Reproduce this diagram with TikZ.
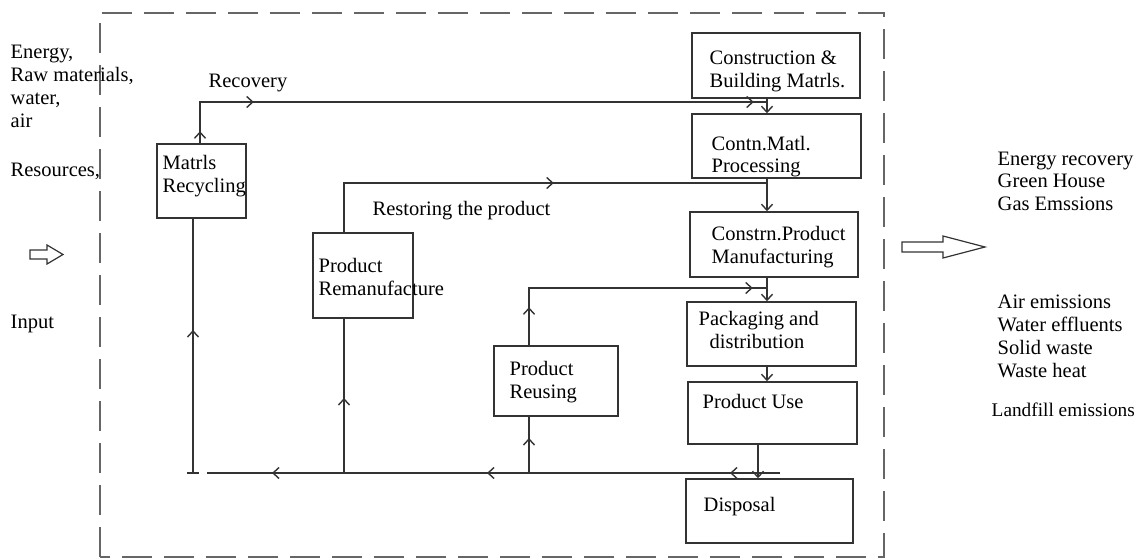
\documentclass[tikz,border=0pt]{standalone}
\usepackage{fontspec}
\setmainfont{Liberation Serif}
\usetikzlibrary{arrows.meta,decorations.markings}

\begin{document}
\begin{tikzpicture}[x=1pt,y=-1pt,line width=1.4pt,
	every node/.style={font=\fontsize{20.5}{23}\selectfont,inner sep=0pt},
	box/.style={draw=black!80,rectangle,line width=1.5pt},
	txt/.style={anchor=base west,align=left},
	flow/.style={draw=black!80,line width=1.4pt},
	tip/.style={-{Straight Barb[length=6pt,width=11pt]}},
	arrowat/.style={postaction={decorate,decoration={markings,mark=at position #1 with {\arrow{Straight Barb[length=6pt,width=11pt]}}}}}]
		\useasboundingbox (0,0) rectangle (1141,559);
		% System boundary
		\draw[black!60,line width=2pt,dash pattern=on 30pt off 12pt] (100,557) -- (100,13) -- (884,13) -- (884,557) -- cycle;
		% Inputs (base = last line)
		\node[txt] (inres) at (10,128) {Energy,\\Raw materials,\\water,\\air};
		\node[txt] (resources) at (10,177) {Resources,};
		\node[txt] (input) at (10,328) {Input};
		\draw[black!80,line width=1.2pt] (30,250) -- (47,250) -- (47,245) -- (63,254.5) -- (47,264) -- (47,259) -- (30,259) -- cycle;
		% Boxes
		\node[box,minimum width=89pt,minimum height=74pt] (mr) at (201.5,181) {};
		\node[box,minimum width=100pt,minimum height=85pt] (rm) at (363,275.5) {};
		\node[box,minimum width=124pt,minimum height=70pt] (ru) at (556,381) {};
		\node[box,minimum width=168pt,minimum height=65pt] (cb) at (776,65.5) {};
		\node[box,minimum width=169pt,minimum height=64pt] (cp) at (776.5,146) {};
		\node[box,minimum width=168pt,minimum height=65pt] (pm) at (774,244.5) {};
		\node[box,minimum width=169pt,minimum height=64pt] (pd) at (771.5,334) {};
		\node[box,minimum width=169pt,minimum height=62pt] (pu) at (772.5,413) {};
		\node[box,minimum width=167pt,minimum height=64pt] (dp) at (769.5,511) {};
		% Box texts
		\node[txt] (mrtext) at (162,193) {Matrls\\Recycling};
		\node[txt] (rmtext) at (318,295) {Product\\Remanufacture};
		\node[txt] (rutext) at (509,398) {Product\\Reusing};
		\node[txt] (cbtext) at (709,88) {Construction \&\\Building Matrls.};
		\node[txt] (cptext) at (711,173) {Contn.Matl.\\Processing};
		\node[txt] (pmtext) at (711,263) {Constrn.Product\\Manufacturing};
		\node[txt] (pdtext) at (698,348) {Packaging and\\\hspace*{11pt}distribution};
		\node[txt] (putext) at (702,408) {Product Use};
		\node[txt] (dptext) at (703,511) {Disposal};
		% Life cycle chain
		\coordinate (sx) at (767,0);
		\coordinate (ux) at (758,0);
		\draw[flow,tip] (cb.south -| sx) -- (cp.north -| sx);
		\draw[flow,tip] (cp.south -| sx) -- (pm.north -| sx);
		\draw[flow,tip] (pm.south -| sx) -- (pd.north -| sx);
		\draw[flow,tip] (pd.south -| sx) -- (pu.north -| sx);
		\draw[flow,tip] (pu.south -| ux) -- (dp.north -| ux);
		% Recovery loop
		\coordinate (rj) at (768,102);
		\node[txt] (recovery) at (208,88) {Recovery};
		\draw[flow,arrowat=12pt,arrowat=95pt,arrowat=595pt] ([xshift=-1.5pt]mr.north) |- (rj);
		% Restoring loop
		\coordinate (rs) at (767,183);
		\node[txt] (restoring) at (372,215) {Restoring the product};
		\draw[flow,arrowat=259pt] ([xshift=-19pt]rm.north) |- (rs);
		% Reusing loop
		\coordinate (us) at (766,288);
		\draw[flow,arrowat=38pt,arrowat=281pt] ([xshift=-27pt]ru.north) |- (us);
		% Return line
		\coordinate (bend) at (780,473);
		\coordinate (bl) at (207,473);
		\coordinate (mrb) at (193,473);
		\coordinate (rmb) at (344,473);
		\coordinate (rub) at (529,473);
		\draw[flow,arrowat=50pt,arrowat=293pt,arrowat=508pt] (bend) -- (bl);
		\draw[flow] ([xshift=-6pt]mrb) -- ([xshift=6pt]mrb);
		\draw[flow,arrowat=143pt] (mrb) -- (mrb |- mr.south);
		\draw[flow,arrowat=75pt] (rmb) -- (rmb |- rm.south);
		\draw[flow,arrowat=35pt] (rub) -- (rub |- ru.south);
		% Outputs
		\draw[black!80,line width=1.2pt] (902,242) -- (943,242) -- (943,236) -- (985,247) -- (943,258) -- (943,252) -- (902,252) -- cycle;
		\node[txt] (outenergy) at (997,211) {Energy recovery\\Green House\\Gas Emssions};
		\node[txt] (outwaste) at (997,377) {Air emissions\\Water effluents\\Solid waste\\Waste heat};
		\node[txt,font=\fontsize{19.3}{23}\selectfont] (outland) at (991,416) {Landfill emissions};
\end{tikzpicture}
\end{document}
